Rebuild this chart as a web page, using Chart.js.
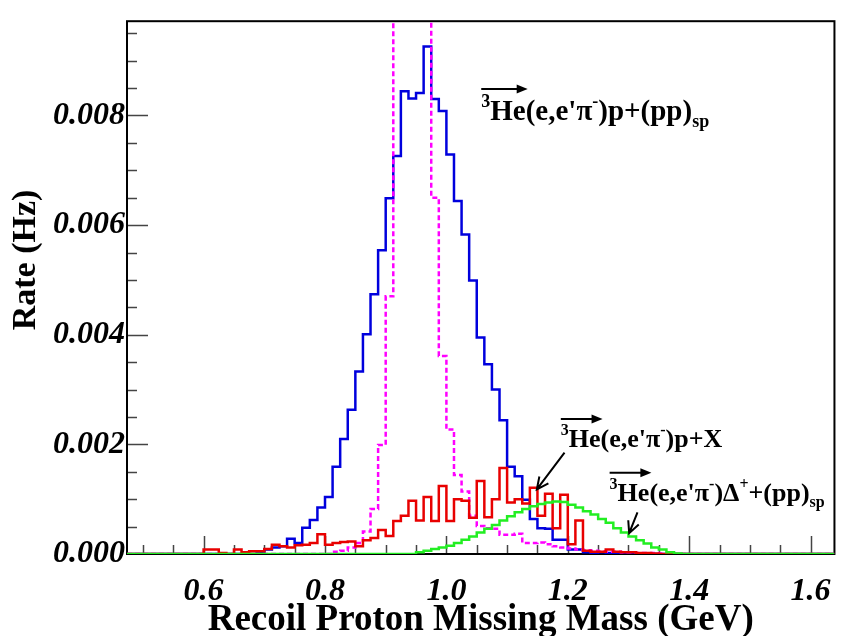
<!DOCTYPE html>
<html>
<head>
<meta charset="utf-8">
<script src="https://cdn.jsdelivr.net/npm/chart.js@4.4.1/dist/chart.umd.min.js"></script>
<style>
  html, body { margin: 0; padding: 0; background: #fff; }
  #chartPlace { display: block; }
</style>
</head>
<body>
<canvas id="chartPlace" width="850" height="636"></canvas>
<script>
// axis ranges (GeV, Hz)
const xMin = 0.4738;
const xMax = 1.6393;
const yMax = 0.00972;
const binWidth = 0.0125;

const xTicks = [0.6, 0.8, 1.0, 1.2, 1.4, 1.6];
const yTicks = [0, 0.002, 0.004, 0.006, 0.008];

// 3He(e,e'pi-)p+(pp)sp  (blue)
const blueStart = 0.6875;
const blueRates = [
  0.00003, 0.00008, 0.00012, 0.00014, 0.00028, 0.00020, 0.00048, 0.00062,
  0.00085, 0.00104, 0.00159, 0.00210, 0.00263, 0.00333, 0.00401, 0.00474,
  0.00554, 0.00649, 0.00726, 0.00844, 0.00831, 0.00841, 0.00926, 0.00830,
  0.00808, 0.00729, 0.00644, 0.00583, 0.00499, 0.00395, 0.00346, 0.00300,
  0.00244, 0.00159, 0.00142, 0.00099, 0.00064, 0.00047, 0.00046, 0.00026,
  0.00026, 0.00008, 0.00008, 0.00003, 0.00002, 0.00003, 0.00002, 0.00001
];

// dashed magenta (goes off the top between 0.9125 and 0.975)
const magentaStart = 0.8125;
const magentaRates = [
  0.00004, 0.00006, 0.00012, 0.00020, 0.00041, 0.00082, 0.00199, 0.00470,
  0.01250, 0.01650, 0.01900, 0.01800, 0.01400, 0.00650, 0.00361, 0.00227,
  0.00144, 0.00114, 0.00070, 0.00051, 0.00047, 0.00046, 0.00035, 0.00035,
  0.00037, 0.00020, 0.00020, 0.00021, 0.00018, 0.00014, 0.00012, 0.00010,
  0.00008, 0.00007, 0.00006, 0.00005, 0.00004, 0.00004, 0.00003, 0.00003,
  0.00002, 0.00002, 0.00002, 0.00001
];

// 3He(e,e'pi-)p+X  (red)
const redStart = 0.6;
const redRates = [
  0.00008, 0.00008, 0.00002, 0.00000, 0.00008, 0.00003, 0.00005, 0.00005,
  0.00009, 0.00017, 0.00014, 0.00012, 0.00016, 0.00017, 0.00020, 0.00036,
  0.00017, 0.00020, 0.00022, 0.00023, 0.00014, 0.00025, 0.00029, 0.00044,
  0.00033, 0.00060, 0.00070, 0.00097, 0.00061, 0.00104, 0.00060, 0.00124,
  0.00060, 0.00100, 0.00097, 0.00066, 0.00133, 0.00067, 0.00100, 0.00157,
  0.00094, 0.00100, 0.00092, 0.00121, 0.00070, 0.00110, 0.00047, 0.00108,
  0.00018, 0.00061, 0.00006, 0.00004, 0.00004, 0.00008, 0.00004, 0.00003,
  0.00003, 0.00002, 0.00002, 0.00001
];

// 3He(e,e'pi-)Delta+ +(pp)sp  (green)
const greenStart = 0.95;
const greenRates = [
  0.00003, 0.00006, 0.00009, 0.00012, 0.00015, 0.00020, 0.00026, 0.00032,
  0.00039, 0.00046, 0.00053, 0.00061, 0.00069, 0.00076, 0.00082, 0.00087,
  0.00091, 0.00094, 0.00096, 0.00095, 0.00090, 0.00085, 0.00078, 0.00072,
  0.00064, 0.00057, 0.00047, 0.00039, 0.00032, 0.00025, 0.00019, 0.00012,
  0.00008, 0.00003, 0.00001
];

// label anchors in data units: [x, y]
const label1Pos = [1.0574, 0.00791];
const label2Pos = [1.1885, 0.00195];
const label3Pos = [1.2689, 0.00097];
const pointer2 = [[1.1946, 0.00185], [1.149, 0.00118]];
const pointer3 = [[1.3148, 0.00076], [1.3011, 0.00038]];

const serif = '"Liberation Serif", "Times New Roman", serif';

function stepPoints(start, rates) {
  var pts = [{x: xMin, y: 0}];
  for (var i = 0; i < rates.length; i++) {
    pts.push({x: start + i * binWidth, y: rates[i]});
  }
  pts.push({x: start + rates.length * binWidth, y: 0});
  pts.push({x: xMax, y: 0});
  return pts;
}

function drawPieces(ctx, x, y, pieces, big) {
  var small = Math.round(big * 0.62);
  var x0 = x;
  var hePos = x;
  for (var i = 0; i < pieces.length; i++) {
    var p = pieces[i];
    var size = p[1] == 'n' ? big : small;
    var dy = p[1] == 'sup' ? -big * 0.46 : (p[1] == 'sub' ? big * 0.23 : 0);
    ctx.font = 'bold ' + size + 'px ' + serif;
    ctx.fillText(p[0], x, y + dy);
    x += ctx.measureText(p[0]).width;
    if (i == 1) hePos = x;
  }
  // vector arrow over 3He
  var ay = y - big * 1.08;
  ctx.lineWidth = 2;
  ctx.beginPath();
  ctx.moveTo(x0, ay);
  ctx.lineTo(hePos - 2, ay);
  ctx.stroke();
  ctx.beginPath();
  ctx.moveTo(hePos + 2, ay);
  ctx.lineTo(hePos - 9, ay - 4.5);
  ctx.lineTo(hePos - 9, ay + 4.5);
  ctx.closePath();
  ctx.fill();
}

function drawPointer(ctx, from, to) {
  ctx.lineWidth = 2;
  ctx.beginPath();
  ctx.moveTo(from[0], from[1]);
  ctx.lineTo(to[0], to[1]);
  var ang = Math.atan2(to[1] - from[1], to[0] - from[0]);
  var len = 13;
  ctx.moveTo(to[0] - len * Math.cos(ang - 0.45), to[1] - len * Math.sin(ang - 0.45));
  ctx.lineTo(to[0], to[1]);
  ctx.lineTo(to[0] - len * Math.cos(ang + 0.45), to[1] - len * Math.sin(ang + 0.45));
  ctx.stroke();
}

const rootStyle = {
  id: 'rootStyle',
  beforeDatasetsDraw: function(chart) {
    var ctx = chart.ctx;
    var ca = chart.chartArea;
    var xs = chart.scales.x;
    var ys = chart.scales.y;
    ctx.save();
    // inward ticks
    ctx.strokeStyle = '#444';
    ctx.lineWidth = 1.5;
    ctx.beginPath();
    for (var k = 10; k <= 32; k++) {
      var v = k * 0.05;
      var px = Math.round(xs.getPixelForValue(v)) + 0.5;
      if (px < ca.left || px > ca.right) continue;
      var len = (k % 4 == 0) ? 18 : 9;
      ctx.moveTo(px, ca.bottom);
      ctx.lineTo(px, ca.bottom - len);
    }
    for (var j = 1; j <= 19; j++) {
      var py = Math.round(ys.getPixelForValue(j * 0.0005)) + 0.5;
      if (py < ca.top) continue;
      var ylen = (j % 4 == 0) ? 21 : 10;
      ctx.moveTo(ca.left, py);
      ctx.lineTo(ca.left + ylen, py);
    }
    ctx.stroke();
    // frame
    ctx.strokeStyle = '#000';
    ctx.lineWidth = 2;
    ctx.strokeRect(ca.left, ca.top, ca.right - ca.left, ca.bottom - ca.top);
    ctx.restore();
  },
  afterDatasetsDraw: function(chart) {
    var ctx = chart.ctx;
    var xs = chart.scales.x;
    var ys = chart.scales.y;
    ctx.save();
    ctx.fillStyle = '#000';
    ctx.strokeStyle = '#000';
    ctx.textBaseline = 'alphabetic';
    ctx.textAlign = 'left';
    drawPieces(ctx, xs.getPixelForValue(label1Pos[0]), ys.getPixelForValue(label1Pos[1]),
      [['3', 'sup'], ['He', 'n'], ["(e,e'\u03c0", 'n'], ['-', 'sup'], [')p+(pp)', 'n'], ['sp', 'sub']], 29);
    drawPieces(ctx, xs.getPixelForValue(label2Pos[0]), ys.getPixelForValue(label2Pos[1]),
      [['3', 'sup'], ['He', 'n'], ["(e,e'\u03c0", 'n'], ['-', 'sup'], [')p+X', 'n']], 26);
    drawPieces(ctx, xs.getPixelForValue(label3Pos[0]), ys.getPixelForValue(label3Pos[1]),
      [['3', 'sup'], ['He', 'n'], ["(e,e'\u03c0", 'n'], ['-', 'sup'], [')\u0394', 'n'], ['+', 'sup'], ['+(pp)', 'n'], ['sp', 'sub']], 26);

    drawPointer(ctx,
      [xs.getPixelForValue(pointer2[0][0]), ys.getPixelForValue(pointer2[0][1])],
      [xs.getPixelForValue(pointer2[1][0]), ys.getPixelForValue(pointer2[1][1])]);
    drawPointer(ctx,
      [xs.getPixelForValue(pointer3[0][0]), ys.getPixelForValue(pointer3[0][1])],
      [xs.getPixelForValue(pointer3[1][0]), ys.getPixelForValue(pointer3[1][1])]);

    // y axis title
    ctx.translate(26, 260);
    ctx.rotate(-Math.PI / 2);
    ctx.textAlign = 'center';
    ctx.textBaseline = 'middle';
    ctx.font = 'bold 34px ' + serif;
    ctx.fillText('Rate (Hz)', 0, 0);
    ctx.restore();
  }
};

function createChart() {
  var chartPlace = document.getElementById('chartPlace').getContext('2d');
  const histStyle = {
    pointRadius: 0,
    stepped: true,
    tension: 0,
    fill: false,
    borderWidth: 2.5
  };
  const chart = new Chart(chartPlace, {
    type: 'line',
    data: {
      datasets: [
        Object.assign({label: "3He(e,e'pi-)Delta+ +(pp)sp", data: stepPoints(greenStart, greenRates),
          borderColor: '#22ee22', order: 0}, histStyle),
        Object.assign({label: "3He(e,e'pi-)p+X", data: stepPoints(redStart, redRates),
          borderColor: '#e80000', order: 1}, histStyle),
        Object.assign({label: 'dashed', data: stepPoints(magentaStart, magentaRates),
          borderColor: '#ff00ff', borderDash: [5, 3], order: 2}, histStyle),
        Object.assign({label: "3He(e,e'pi-)p+(pp)sp", data: stepPoints(blueStart, blueRates),
          borderColor: '#0000dd', order: 3}, histStyle)
      ]
    },
    options: {
      responsive: false,
      animation: false,
      devicePixelRatio: 1,
      layout: { padding: { left: 0, top: 8, right: 12, bottom: 0 } },
      plugins: { legend: { display: false }, tooltip: { enabled: false } },
      scales: {
        x: {
          type: 'linear',
          min: xMin,
          max: xMax,
          grid: { display: false, drawTicks: false },
          border: { display: false },
          afterBuildTicks: function(s) { s.ticks = xTicks.map(function(v) { return {value: v}; }); },
          afterFit: function(s) { s.height = 82; },
          ticks: {
            color: '#000',
            padding: 19,
            maxRotation: 0,
            autoSkip: false,
            font: { family: serif, size: 32, style: 'italic', weight: 'bold' },
            callback: function(v) { return v.toFixed(1); }
          },
          title: {
            display: true,
            text: 'Recoil Proton Missing Mass (GeV)',
            color: '#000',
            font: { family: serif, size: 37, weight: 'bold', lineHeight: 1 },
            padding: { top: 0, bottom: -3 }
          }
        },
        y: {
          type: 'linear',
          min: 0,
          max: yMax,
          grid: { display: false, drawTicks: false },
          border: { display: false },
          afterBuildTicks: function(s) { s.ticks = yTicks.map(function(v) { return {value: v}; }); },
          afterFit: function(s) { s.width = 127; },
          ticks: {
            color: '#000',
            padding: 2,
            autoSkip: false,
            font: { family: serif, size: 32, style: 'italic', weight: 'bold' },
            callback: function(v) { return v.toFixed(3); }
          }
        }
      }
    },
    plugins: [rootStyle]
  });
}

createChart();
</script>
</body>
</html>
